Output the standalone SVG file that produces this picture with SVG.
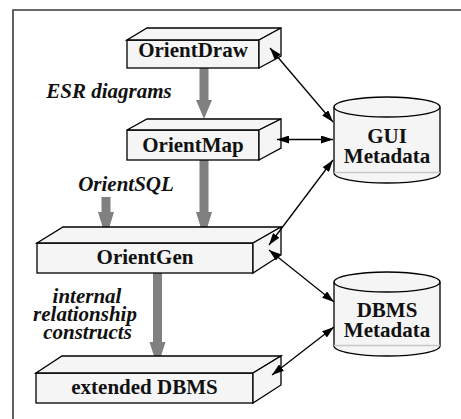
<svg xmlns="http://www.w3.org/2000/svg" width="461" height="419" viewBox="0 0 461 419">
  <defs>
    <marker id="tip" viewBox="0 0 12 8" refX="12" refY="4" markerWidth="12" markerHeight="8" markerUnits="userSpaceOnUse" orient="auto-start-reverse">
      <path d="M0,0 L12,4 L0,8 Z" fill="#000"/>
    </marker>
  </defs>
  <style>
    .face { fill: #f5f5f5; stroke: #000; stroke-width: 1.3; stroke-linejoin: miter; }
    .name { font-family: "Liberation Serif", "Times New Roman", serif; font-weight: bold; font-size: 21px; fill: #111; text-anchor: middle; }
    .flow { font-family: "Liberation Serif", "Times New Roman", serif; font-weight: bold; font-style: italic; font-size: 21px; fill: #111; text-anchor: middle; }
    .thick { fill: #808080; stroke: none; }
    .link { stroke: #000; stroke-width: 1.3; fill: none; marker-start: url(#tip); marker-end: url(#tip); }
    .rim { stroke: #c8c8c8; stroke-width: 1.3; fill: none; }
  </style>

  <rect width="461" height="419" fill="#fff"/>
  <!-- frame -->
  <path d="M13,419 L13,10 L461,10" fill="none" stroke="#3a3a3a" stroke-width="1.6"/>

  <!-- data-flow arrows (thick gray) -->
  <g id="flows">
    <polygon class="thick" points="199.5,68 208.5,68 208.5,100 212,100 204,119 196,100 199.5,100"/>
    <polygon class="thick" points="199.5,160 208.5,160 208.5,212 212,212 204,238 196,212 199.5,212"/>
    <polygon class="thick" points="101.5,197 110.5,197 110.5,212 114,212 106,238 98,212 101.5,212"/>
    <polygon class="thick" points="153,273 162,273 162,342 165.5,342 157.5,367 149.5,342 153,342"/>
  </g>

  <!-- flow labels -->
  <g id="labels">
    <text class="flow" x="109" y="98">ESR diagrams</text>
    <text class="flow" x="126" y="191">OrientSQL</text>
    <text class="flow" x="87" y="303">internal</text>
    <text class="flow" x="85" y="321">relationship</text>
    <text class="flow" x="87.5" y="339">constructs</text>
  </g>

  <g id="orientdraw">
    <rect class="face" x="127" y="40" width="132" height="28"/>
    <polygon class="face" points="127,40 147,28 281,28 259,40"/>
    <polygon class="face" points="259,40 281,28 281,56 259,68"/>
    <text class="name" x="193" y="57">OrientDraw</text>
  </g>

  <g id="orientmap">
    <rect class="face" x="127" y="130" width="132" height="30"/>
    <polygon class="face" points="127,130 147,119 281,119 259,130"/>
    <polygon class="face" points="259,130 281,119 281,148 259,160"/>
    <text class="name" x="193" y="152">OrientMap</text>
  </g>

  <g id="orientgen">
    <rect class="face" x="37" y="243" width="216" height="30"/>
    <polygon class="face" points="37,243 63,227 281,227 253,243"/>
    <polygon class="face" points="253,243 281,227 281,255 253,273"/>
    <text class="name" x="145" y="264">OrientGen</text>
  </g>

  <g id="extended-dbms">
    <rect class="face" x="36" y="373" width="217" height="30"/>
    <polygon class="face" points="36,373 62,356 281,356 253,373"/>
    <polygon class="face" points="253,373 281,356 281,385 253,403"/>
    <text class="name" x="144.5" y="394">extended DBMS</text>
  </g>

  <g id="gui-metadata">
    <path class="face" d="M334,107 L334,173 A53,10 0 0 0 440,173 L440,107"/>
    <line class="rim" x1="334" y1="172.5" x2="440" y2="172.5"/>
    <ellipse class="face" cx="387" cy="107" rx="53" ry="10"/>
    <text class="name" x="387" y="143">GUI</text>
    <text class="name" x="387" y="163">Metadata</text>
  </g>

  <g id="dbms-metadata">
    <path class="face" d="M334,282 L334,346 A53,10 0 0 0 440,346 L440,282"/>
    <line class="rim" x1="334" y1="345.5" x2="440" y2="345.5"/>
    <ellipse class="face" cx="387" cy="282" rx="53" ry="10"/>
    <text class="name" x="387" y="317">DBMS</text>
    <text class="name" x="387" y="337">Metadata</text>
  </g>

  <!-- metadata access connectors -->
  <g id="connectors">
    <line class="link" x1="270" y1="48" x2="333" y2="122"/>
    <line class="link" x1="277" y1="139.5" x2="333" y2="139.5"/>
    <line class="link" x1="269" y1="245" x2="333" y2="160"/>
    <line class="link" x1="269" y1="250" x2="334" y2="302"/>
    <line class="link" x1="272" y1="375" x2="334" y2="327"/>
  </g>
</svg>
